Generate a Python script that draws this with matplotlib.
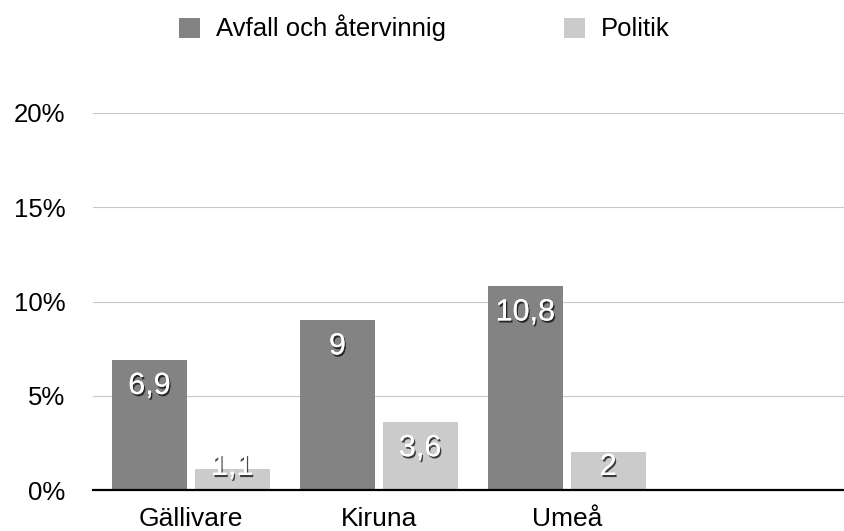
import numpy as np
import matplotlib.pyplot as plt
import matplotlib.patheffects as pe
from matplotlib.ticker import FuncFormatter

plt.rcParams['font.family'] = ['Liberation Sans', 'DejaVu Sans']

kommuner = ["Gällivare", "Kiruna", "Umeå"]
avfall = [6.9, 9, 10.8]
politik = [1.1, 3.6, 2]
serier = ["Avfall och återvinnig", "Politik"]
yticks = [0, 5, 10, 15, 20]

mork = "#838383"
ljus = "#cbcbcb"

fig = plt.figure(figsize=(8.45, 5.31), dpi=100)
ax = fig.add_axes([93/845, 41/531, 1 - 93/845, (490 - 113)/531])

x = np.arange(len(kommuner))
w = 0.4
b1 = ax.bar(x - 0.22, avfall, w, color=mork, label=serier[0], zorder=2)
b2 = ax.bar(x + 0.22, politik, w, color=ljus, label=serier[1], zorder=2)

ax.set_xlim(-0.52, 3.48)
ax.set_ylim(0, 20)
ax.set_yticks(yticks)
ax.yaxis.set_major_formatter(FuncFormatter(lambda v, p: f"{v:.0f}%"))
ax.set_xticks(x)
ax.set_xticklabels(kommuner)
ax.tick_params(axis='y', length=0, pad=20, labelsize=18.5)
ax.tick_params(axis='x', length=0, pad=12.5, labelsize=19)
ax.yaxis.grid(True, color="#c8c8c8", lw=0.8, zorder=0)
for s in ["left", "right", "top"]:
    ax.spines[s].set_visible(False)
ax.spines["bottom"].set_linewidth(1.6)
ax.spines["bottom"].set_color("black")
ax.spines["bottom"].set_zorder(3)

skugga = [pe.withSimplePatchShadow(offset=(1, -1.5), shadow_rgbFace="black", alpha=0.7),
          pe.Normal()]
for bars, vals in [(b1, avfall), (b2, politik)]:
    for r, v in zip(bars, vals):
        yl = max(v - 1.38, 1.22)
        ax.text(r.get_x() + r.get_width()/2, yl, f"{v:g}".replace(".", ","),
                ha="center", va="center", color="white", fontsize=22,
                path_effects=skugga, zorder=4)

fig.legend(handles=[b1, b2], loc="center", bbox_to_anchor=(0.502, 0.947),
           ncol=2, frameon=False, fontsize=18.5, handlelength=0.82,
           handleheight=0.82, handletextpad=0.6, columnspacing=4.6,
           borderpad=0)

fig.savefig("out.png", dpi=100)
